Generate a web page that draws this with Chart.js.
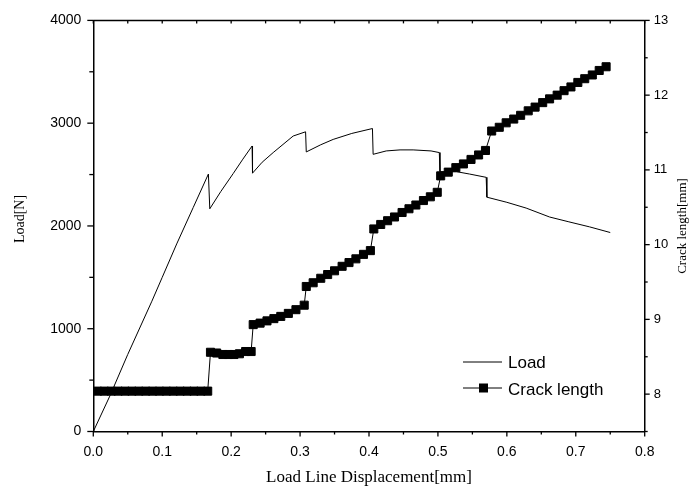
<!DOCTYPE html>
<html>
<head>
<meta charset="utf-8">
<title>Load / Crack length</title>
<script src="https://cdn.jsdelivr.net/npm/chart.js@4.4.0/dist/chart.umd.min.js"></script>
<style>
    html, body { margin: 0; padding: 0; background: #fff; }
    canvas { display: block; }
</style>
</head>
<body>
<canvas id="loadChart" width="691" height="494"></canvas>
<script>
// 数据 - 从图上读出来的
const xTicks = [0, 0.1, 0.2, 0.3, 0.4, 0.5, 0.6, 0.7, 0.8];
const loadTicks = [0, 1000, 2000, 3000, 4000];
const crackTicks = [8, 9, 10, 11, 12, 13];

// Load 曲线 (x: mm, y: N)
const loadX = [0, 0.024, 0.05, 0.085, 0.1, 0.121, 0.145, 0.167,
    0.169, 0.185, 0.203, 0.217, 0.2304,
    0.231, 0.245, 0.261, 0.29, 0.308,
    0.309, 0.33, 0.348, 0.375, 0.405,
    0.406, 0.425, 0.445, 0.464, 0.49, 0.502,
    0.503, 0.527, 0.546, 0.570,
    0.571, 0.6, 0.628, 0.662, 0.69, 0.72, 0.75];
const loadY = [0, 345, 750, 1268, 1500, 1825, 2180, 2505,
    2167, 2335, 2510, 2650, 2778,
    2514, 2620, 2714, 2875, 2916,
    2720, 2790, 2842, 2900, 2948,
    2697, 2730, 2740, 2740, 2730, 2714,
    2528, 2528, 2505, 2473,
    2280, 2230, 2174, 2087, 2040, 1991, 1936];

// Crack length (x: mm, y: mm)
const crackX = [0.006, 0.016, 0.026, 0.036, 0.046, 0.056, 0.066, 0.076, 0.086, 0.096,
    0.106, 0.116, 0.126, 0.136, 0.146, 0.156, 0.166,
    0.170, 0.179, 0.188, 0.196, 0.204, 0.212, 0.221, 0.229,
    0.232, 0.242, 0.252, 0.262, 0.272, 0.283, 0.294, 0.306,
    0.309, 0.319, 0.330, 0.340, 0.350, 0.361, 0.371, 0.381, 0.392, 0.402,
    0.407, 0.417, 0.427, 0.437, 0.448, 0.458, 0.468, 0.479, 0.489, 0.499,
    0.504, 0.515, 0.526, 0.537, 0.548, 0.559, 0.569,
    0.578, 0.589, 0.599, 0.610, 0.620, 0.631, 0.641, 0.652, 0.662, 0.673,
    0.683, 0.693, 0.703, 0.713, 0.724, 0.734, 0.744];
const crackY = [8.04, 8.04, 8.04, 8.04, 8.04, 8.04, 8.04, 8.04, 8.04, 8.04,
    8.04, 8.04, 8.04, 8.04, 8.04, 8.04, 8.04,
    8.56, 8.55, 8.53, 8.53, 8.53, 8.54, 8.57, 8.57,
    8.93, 8.95, 8.98, 9.01, 9.04, 9.08, 9.13, 9.19,
    9.44, 9.49, 9.55, 9.60, 9.65, 9.71, 9.76, 9.81, 9.87, 9.92,
    10.21, 10.27, 10.32, 10.37, 10.43, 10.48, 10.53, 10.59, 10.64, 10.70,
    10.92, 10.97, 11.03, 11.08, 11.14, 11.20, 11.26,
    11.52, 11.57, 11.63, 11.68, 11.73, 11.79, 11.84, 11.90, 11.95, 12.00,
    12.06, 12.11, 12.17, 12.22, 12.27, 12.33, 12.38];

const SANS = 'Arial, "Liberation Sans", sans-serif';
const SERIF = '"Times New Roman", "Liberation Serif", serif';

const toPoints = (xs, ys) => xs.map((x, i) => ({ x: x, y: ys[i] }));

// 刻度线 + 顶边 + 标题 + 图例, 自己画
const framePlugin = {
    id: 'frame',
    afterDraw(chart) {
        const ctx = chart.ctx;
        const a = chart.chartArea;
        const sx = chart.scales.x, sy = chart.scales.y, sy1 = chart.scales.y1;
        ctx.save();
        ctx.strokeStyle = '#000';
        ctx.fillStyle = '#000';

        // top border
        ctx.lineWidth = 1.5;
        ctx.beginPath();
        ctx.moveTo(a.left, a.top);
        ctx.lineTo(a.right, a.top);
        ctx.stroke();

        const tick = (x1, y1, x2, y2) => {
            ctx.beginPath(); ctx.moveTo(x1, y1); ctx.lineTo(x2, y2); ctx.stroke();
        };
        ctx.lineWidth = 1.3;

        // x: major + minor, bottom outward, top inward
        xTicks.forEach((v, i) => {
            const px = sx.getPixelForValue(v);
            tick(px, a.bottom, px, a.bottom + 5);
            tick(px, a.top, px, a.top + 3);
            if (i < xTicks.length - 1) {
                const mx = sx.getPixelForValue((v + xTicks[i + 1]) / 2);
                tick(mx, a.bottom, mx, a.bottom + 3);
                tick(mx, a.top, mx, a.top + 3);
            }
        });
        // left y
        loadTicks.forEach((v, i) => {
            const py = sy.getPixelForValue(v);
            tick(a.left - 6, py, a.left, py);
            if (i < loadTicks.length - 1) {
                const my = sy.getPixelForValue((v + loadTicks[i + 1]) / 2);
                tick(a.left - 4, my, a.left, my);
            }
        });
        // right y (7.5 ~ 13)
        crackTicks.forEach((v) => {
            const py = sy1.getPixelForValue(v);
            tick(a.right, py, a.right + 5, py);
            const my = sy1.getPixelForValue(v - 0.5);
            tick(a.right, my, a.right + 3, my);
        });

        // axis titles
        ctx.textAlign = 'center';
        ctx.textBaseline = 'alphabetic';
        ctx.font = '17px ' + SERIF;
        ctx.fillText('Load Line Displacement[mm]', (a.left + a.right) / 2, 482);

        ctx.save();
        ctx.translate(24, 219);
        ctx.rotate(-Math.PI / 2);
        ctx.font = '14px ' + SERIF;
        ctx.fillText('Load[N]', 0, 0);
        ctx.restore();

        ctx.save();
        ctx.translate(686, 226);
        ctx.rotate(-Math.PI / 2);
        ctx.font = '13px ' + SERIF;
        ctx.fillText('Crack length[mm]', 0, 0);
        ctx.restore();

        // legend
        ctx.lineWidth = 1;
        ctx.textAlign = 'left';
        ctx.font = '17px ' + SANS;
        tick(463, 362, 502, 362);
        ctx.fillText('Load', 508, 368);
        tick(463, 388, 502, 388);
        ctx.fillRect(479, 383.5, 9, 9);
        ctx.fillText('Crack length', 508, 394.5);

        ctx.restore();
    }
};

const ctx = document.getElementById('loadChart');
const chart = new Chart(ctx, {
    type: 'line',
    data: {
        datasets: [
            {
                label: 'Crack length',
                data: toPoints(crackX, crackY),
                yAxisID: 'y1',
                order: 0,
                borderColor: '#000',
                borderWidth: 1,
                backgroundColor: '#000',
                pointStyle: 'rect',
                pointRadius: 5.7,
                pointBorderWidth: 1,
                pointBorderColor: '#000',
                pointBackgroundColor: '#000',
                tension: 0
            },
            {
                label: 'Load',
                data: toPoints(loadX, loadY),
                yAxisID: 'y',
                order: 1,
                borderColor: '#000',
                borderWidth: 1,
                pointRadius: 0,
                tension: 0
            }
        ]
    },
    options: {
        responsive: false,
        animation: false,
        devicePixelRatio: 1,
        layout: { padding: { top: 16, left: 0, right: 0, bottom: 0 } },
        plugins: { legend: { display: false }, tooltip: { enabled: false } },
        scales: {
            x: {
                type: 'linear',
                min: 0, max: 0.8,
                grid: { display: false, drawTicks: false },
                border: { color: '#000', width: 1.5 },
                ticks: { color: '#000', font: { family: SANS, size: 14 }, padding: 12, maxRotation: 0,
                    callback: v => v.toFixed(1) },
                afterBuildTicks: s => { s.ticks = xTicks.map(v => ({ value: v })); },
                afterFit: s => { s.height = 62.5; }
            },
            y: {
                position: 'left',
                min: 0, max: 4000,
                grid: { display: false, drawTicks: false },
                border: { color: '#000', width: 1.5 },
                ticks: { color: '#000', font: { family: SANS, size: 14 }, padding: 12,
                    callback: v => String(v) },
                afterBuildTicks: s => { s.ticks = loadTicks.map(v => ({ value: v })); },
                afterFit: s => { s.width = 93.3; }
            },
            y1: {
                position: 'right',
                min: 7.5, max: 13,
                grid: { display: false, drawTicks: false },
                border: { color: '#000', width: 1.5 },
                ticks: { color: '#000', font: { family: SANS, size: 13 }, padding: 9,
                    callback: v => String(v) },
                afterBuildTicks: s => { s.ticks = crackTicks.map(v => ({ value: v })); },
                afterFit: s => { s.width = 46.3; }
            }
        }
    },
    plugins: [framePlugin]
});
console.log('[Chart] area', chart.chartArea);
</script>
</body>
</html>
